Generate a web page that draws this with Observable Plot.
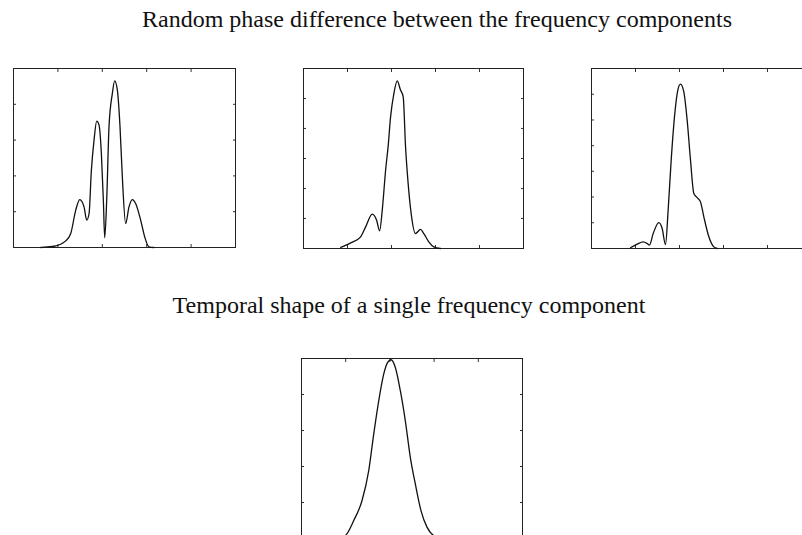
<!DOCTYPE html>
<html>
<head>
<meta charset="utf-8">
<script src="https://cdn.jsdelivr.net/npm/d3@7"></script>
<script src="https://cdn.jsdelivr.net/npm/@observablehq/plot@0.6"></script>
<style>
  html, body { margin: 0; padding: 0; background: #fff; width: 802px; height: 535px; overflow: hidden; }
  #root { position: relative; width: 802px; height: 535px; overflow: hidden; }
  .title { position: absolute; white-space: nowrap; font-family: "Liberation Serif", "DejaVu Serif", serif; font-size: 24px; line-height: 24px; color: #111; transform: translateX(-50%); }
  .panel { position: absolute; }
</style>
</head>
<body>
<div id="root"></div>
<script>
// Titles
const title1 = "Random phase difference between the frequency components";
const title2 = "Temporal shape of a single frequency component";

// Panel 1 (random phase, case a)
const p1x = [0.615, 0.765, 0.915, 1.177, 1.289, 1.402, 1.492, 1.589, 1.649, 1.702, 1.754, 1.814, 1.874, 1.927, 1.979, 2.024, 2.054, 2.099, 2.151, 2.226, 2.279, 2.339, 2.399, 2.451, 2.526, 2.601, 2.676, 2.751, 2.864, 2.954, 3.051, 3.163];
const p1y = [0, 0.004, 0.007, 0.037, 0.078, 0.209, 0.268, 0.227, 0.153, 0.190, 0.432, 0.600, 0.706, 0.684, 0.525, 0.264, 0.054, 0.264, 0.674, 0.860, 0.931, 0.879, 0.674, 0.395, 0.134, 0.227, 0.268, 0.246, 0.153, 0.060, 0.004, 0];

// Panel 2 (random phase, case b)
const p2x = [0.846, 1.073, 1.299, 1.412, 1.563, 1.662, 1.730, 1.790, 1.866, 1.926, 1.979, 2.054, 2.130, 2.205, 2.266, 2.319, 2.372, 2.447, 2.545, 2.659, 2.734, 2.847, 2.961, 3.112];
const p2y = [0.006, 0.031, 0.065, 0.120, 0.191, 0.157, 0.098, 0.213, 0.435, 0.574, 0.731, 0.861, 0.931, 0.880, 0.843, 0.565, 0.380, 0.194, 0.083, 0.106, 0.083, 0.037, 0.009, 0];

// Panel 3 (random phase, case c)
const p3x = [0.886, 1.038, 1.174, 1.265, 1.318, 1.402, 1.530, 1.606, 1.682, 1.742, 1.811, 1.886, 1.962, 2.023, 2.098, 2.174, 2.250, 2.326, 2.402, 2.477, 2.553, 2.667, 2.780, 2.856];
const p3y = [0.004, 0.024, 0.037, 0.028, 0.019, 0.083, 0.144, 0.111, 0.022, 0.213, 0.491, 0.731, 0.880, 0.913, 0.870, 0.713, 0.491, 0.306, 0.283, 0.259, 0.176, 0.065, 0.009, 0];

// Panel 4 (single frequency component)
const p4x = [0.80, 0.994, 1.182, 1.370, 1.521, 1.634, 1.747, 1.860, 1.950, 2.026, 2.123, 2.236, 2.349, 2.462, 2.575, 2.703, 2.839, 2.989, 3.20];
const p4y = [0.0, 0.017, 0.100, 0.211, 0.377, 0.580, 0.765, 0.913, 0.978, 0.993, 0.950, 0.821, 0.654, 0.451, 0.303, 0.155, 0.063, 0.017, 0.0];

// Tick positions (no labels in the original)
const xTicks = [1, 2, 3, 4];
const yTicks5 = [0.2, 0.4, 0.6, 0.8];
const yTicks6 = [0.167, 0.333, 0.5, 0.667, 0.833];
const yTicks7 = [0.143, 0.286, 0.429, 0.571, 0.714, 0.857];

const root = document.getElementById("root");

function addTitle(text, cx, top) {
  const d = document.createElement("div");
  d.className = "title";
  d.textContent = text;
  d.style.left = cx + "px";
  d.style.top = top + "px";
  root.appendChild(d);
}

function panel(xs, ys, yTicks, left, top, w, h) {
  const data = xs.map((x, i) => ({x, y: ys[i]}));
  const m = 1;
  const chart = Plot.plot({
    width: w + 2 * m,
    height: h + 2 * m,
    marginTop: m, marginRight: m, marginBottom: m, marginLeft: m,
    x: {domain: [0, 5]},
    y: {domain: [0, 1]},
    style: {background: "transparent", overflow: "visible"},
    marks: [
      Plot.axisX({anchor: "bottom", ticks: xTicks, tickSize: -3, tickFormat: () => "", label: null, stroke: "#333"}),
      Plot.axisX({anchor: "top", ticks: xTicks, tickSize: -3, tickFormat: () => "", label: null, stroke: "#333"}),
      Plot.axisY({anchor: "left", ticks: yTicks, tickSize: -3, tickFormat: () => "", label: null, stroke: "#333"}),
      Plot.axisY({anchor: "right", ticks: yTicks, tickSize: -3, tickFormat: () => "", label: null, stroke: "#333"}),
      Plot.frame({stroke: "#222", strokeWidth: 1}),
      Plot.line(data, {x: "x", y: "y", curve: "monotone-x", stroke: "#111", strokeWidth: 1.3})
    ]
  });
  chart.classList.add("panel");
  chart.style.left = (left - m) + "px";
  chart.style.top = (top - m) + "px";
  root.appendChild(chart);
}

addTitle(title1, 437, 7);
panel(p1x, p1y, yTicks5, 13, 68, 222, 179);
panel(p2x, p2y, yTicks6, 303, 68, 220, 180);
panel(p3x, p3y, yTicks7, 591, 68, 220, 180);
addTitle(title2, 409, 293);
panel(p4x, p4y, yTicks5, 301, 358, 221, 180);
</script>
</body>
</html>
